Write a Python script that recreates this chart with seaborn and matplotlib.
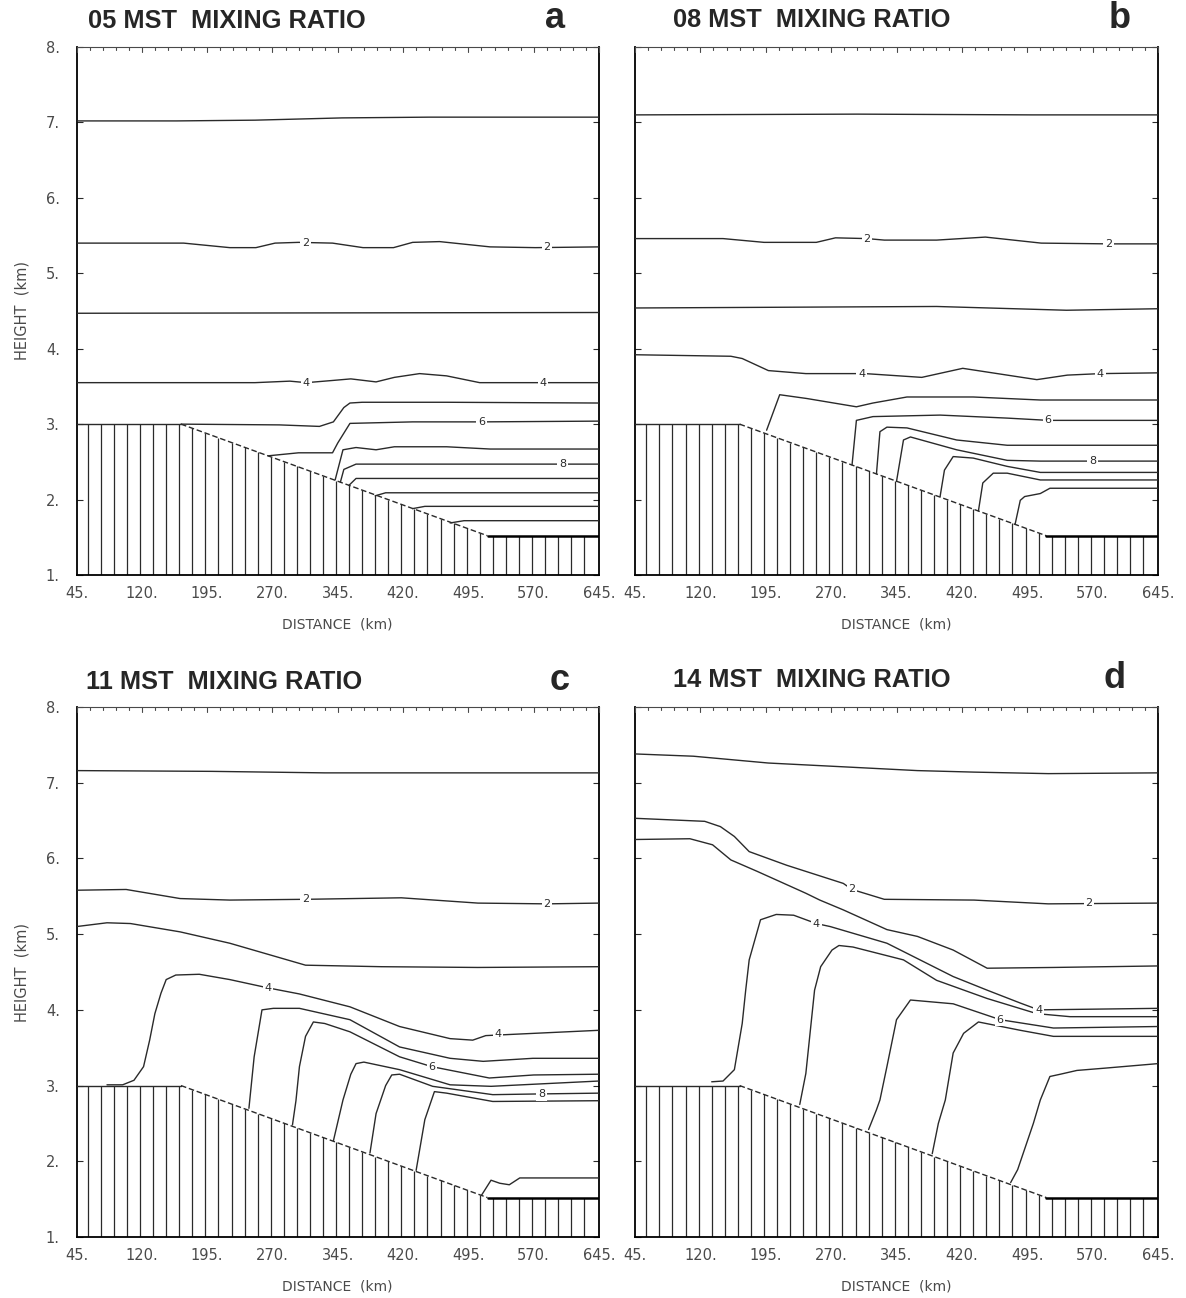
import numpy as np
import matplotlib
matplotlib.use("Agg")
import matplotlib.pyplot as plt
import seaborn as sns

# terrain profile (distance km, height km)
terrain_x = [45, 165, 517, 645]
terrain_h = [3.0, 3.0, 1.52, 1.52]

x_ticks = [45, 120, 195, 270, 345, 420, 495, 570, 645]
x_tick_labels = ["45.", "120.", "195.", "270.", "345.", "420.", "495.", "570.", "645."]
y_ticks = [1, 2, 3, 4, 5, 6, 7, 8]
y_tick_labels = ["1.", "2.", "3.", "4.", "5.", "6.", "7.", "8."]

titles = ["05 MST  MIXING RATIO", "08 MST  MIXING RATIO",
          "11 MST  MIXING RATIO", "14 MST  MIXING RATIO"]
letters = ["a", "b", "c", "d"]

# ---- panel a : 05 MST ----
a_contours = [
    [(45, 7.02), (160, 7.02), (250, 7.03), (350, 7.06), (450, 7.07), (645, 7.07)],
    [(45, 5.40), (168, 5.40), (221, 5.34), (251, 5.34), (273, 5.40), (300, 5.41), (339, 5.40),
     (374, 5.34), (409, 5.34), (431, 5.41), (462, 5.42), (520, 5.35), (572, 5.34), (645, 5.35)],
    [(45, 4.47), (645, 4.48)],
    [(45, 3.55), (250, 3.55), (290, 3.57), (309, 3.55), (340, 3.58), (360, 3.60), (389, 3.56),
     (410, 3.62), (439, 3.67), (470, 3.64), (508, 3.55), (645, 3.55)],
    [(165, 3.00), (278, 2.99), (324, 2.97), (340, 3.03), (352, 3.22), (359, 3.28), (373, 3.29),
     (470, 3.29), (645, 3.28)],
    [(265, 2.58), (300, 2.62), (339, 2.62), (345, 2.75), (359, 3.01), (431, 3.03), (510, 3.03),
     (645, 3.04)],
    [(342, 2.26), (351, 2.66), (366, 2.69), (389, 2.66), (410, 2.70), (470, 2.70), (520, 2.67),
     (645, 2.67)],
    [(348, 2.23), (352, 2.40), (366, 2.47), (645, 2.47)],
    [(358, 2.19), (366, 2.28), (645, 2.28)],
    [(388, 2.05), (400, 2.09), (645, 2.09)],
    [(431, 1.88), (445, 1.91), (645, 1.91)],
    [(474, 1.69), (490, 1.72), (645, 1.72)],
]
a_labels = [(308, 5.40, "2"), (585, 5.35, "2"), (309, 3.55, "4"), (581, 3.55, "4"),
            (510, 3.03, "6"), (603, 2.47, "8")]

# ---- panel b : 08 MST ----
b_contours = [
    [(45, 7.10), (300, 7.11), (500, 7.10), (645, 7.10)],
    [(45, 5.46), (146, 5.46), (193, 5.41), (253, 5.41), (275, 5.47), (311, 5.46), (331, 5.44),
     (391, 5.44), (447, 5.48), (511, 5.40), (588, 5.39), (645, 5.39)],
    [(45, 4.54), (391, 4.56), (540, 4.51), (645, 4.53)],
    [(45, 3.92), (155, 3.90), (168, 3.87), (198, 3.71), (241, 3.67), (309, 3.67), (374, 3.62),
     (421, 3.74), (506, 3.59), (541, 3.65), (579, 3.67), (645, 3.68)],
    [(196, 2.92), (211, 3.39), (242, 3.34), (299, 3.23), (318, 3.28), (357, 3.36), (433, 3.36),
     (510, 3.32), (645, 3.32)],
    [(294, 2.46), (299, 3.05), (318, 3.10), (395, 3.12), (472, 3.08), (519, 3.05), (645, 3.05)],
    [(322, 2.34), (326, 2.90), (334, 2.96), (357, 2.95), (414, 2.79), (472, 2.72), (645, 2.72)],
    [(345, 2.24), (353, 2.79), (361, 2.83), (414, 2.66), (472, 2.52), (510, 2.51), (645, 2.51)],
    [(395, 2.04), (400, 2.39), (410, 2.57), (433, 2.55), (472, 2.44), (510, 2.36), (645, 2.36)],
    [(439, 1.85), (444, 2.22), (456, 2.35), (472, 2.35), (510, 2.26), (645, 2.26)],
    [(481, 1.67), (487, 1.99), (492, 2.04), (510, 2.08), (521, 2.15), (645, 2.15)],
]
b_labels = [(311, 5.46, "2"), (588, 5.39, "2"), (305, 3.67, "4"), (579, 3.67, "4"),
            (519, 3.05, "6"), (570, 2.51, "8")]

# ---- panel c : 11 MST ----
c_contours = [
    [(45, 7.16), (200, 7.15), (330, 7.13), (450, 7.13), (645, 7.13)],
    [(45, 5.58), (102, 5.59), (164, 5.47), (221, 5.45), (308, 5.46), (418, 5.48), (506, 5.41),
     (585, 5.40), (645, 5.41)],
    [(45, 5.10), (80, 5.15), (107, 5.14), (164, 5.03), (221, 4.88), (308, 4.59), (395, 4.57),
     (506, 4.56), (645, 4.57)],
    [(80, 3.01), (98, 3.01), (111, 3.07), (122, 3.25), (129, 3.60), (135, 3.95), (142, 4.22),
     (148, 4.40), (159, 4.46), (186, 4.47), (221, 4.40), (265, 4.29), (301, 4.21), (359, 4.04),
     (416, 3.78), (474, 3.62), (500, 3.60), (515, 3.66), (645, 3.73)],
    [(243, 2.70), (249, 3.38), (258, 4.00), (271, 4.02), (301, 4.02), (359, 3.87), (416, 3.51),
     (474, 3.36), (512, 3.32), (569, 3.36), (645, 3.36)],
    [(293, 2.48), (297, 2.80), (301, 3.25), (308, 3.65), (317, 3.84), (330, 3.82), (359, 3.71),
     (416, 3.38), (453, 3.25), (519, 3.10), (570, 3.14), (645, 3.15)],
    [(340, 2.27), (351, 2.81), (360, 3.15), (366, 3.29), (375, 3.31), (416, 3.21), (474, 3.01),
     (521, 2.99), (645, 3.06)],
    [(382, 2.11), (389, 2.63), (400, 3.00), (407, 3.14), (416, 3.15), (454, 2.99), (523, 2.88),
     (579, 2.89), (645, 2.90)],
    [(435, 1.88), (445, 2.55), (456, 2.92), (470, 2.90), (523, 2.79), (645, 2.80)],
    [(510, 1.55), (521, 1.75), (531, 1.71), (542, 1.69), (554, 1.78), (645, 1.78)],
]
c_labels = [(308, 5.46, "2"), (585, 5.40, "2"), (265, 4.29, "4"), (529, 3.68, "4"),
            (453, 3.25, "6"), (579, 2.89, "8")]

# ---- panel d : 14 MST ----
d_contours = [
    [(45, 7.38), (112, 7.35), (198, 7.26), (284, 7.21), (369, 7.16), (434, 7.14), (519, 7.12),
     (645, 7.13)],
    [(45, 6.53), (125, 6.49), (143, 6.42), (159, 6.29), (176, 6.09), (219, 5.91), (284, 5.67),
     (294, 5.59), (331, 5.46), (434, 5.45), (519, 5.40), (645, 5.41)],
    [(45, 6.25), (108, 6.26), (134, 6.18), (155, 5.98), (185, 5.83), (241, 5.54), (257, 5.45),
     (284, 5.32), (334, 5.06), (369, 4.97), (410, 4.79), (449, 4.55), (525, 4.56), (645, 4.58)],
    [(133, 3.05), (146, 3.06), (159, 3.21), (168, 3.82), (172, 4.26), (176, 4.66), (189, 5.19),
     (207, 5.26), (227, 5.25), (253, 5.14), (269, 5.10), (334, 4.88), (372, 4.66), (410, 4.44),
     (449, 4.26), (487, 4.09), (508, 4.00), (645, 4.02)],
    [(234, 2.75), (241, 3.16), (247, 3.82), (251, 4.26), (258, 4.57), (271, 4.79), (279, 4.85),
     (295, 4.83), (353, 4.66), (391, 4.39), (449, 4.15), (506, 3.95), (544, 3.91), (645, 3.91)],
    [(313, 2.42), (322, 2.68), (326, 2.81), (334, 3.25), (345, 3.87), (361, 4.13), (410, 4.08),
     (464, 3.87), (525, 3.76), (645, 3.78)],
    [(386, 2.10), (393, 2.50), (401, 2.81), (410, 3.43), (422, 3.69), (439, 3.84), (487, 3.73),
     (525, 3.65), (645, 3.65)],
    [(476, 1.72), (484, 1.89), (502, 2.50), (510, 2.81), (521, 3.12), (533, 3.15), (552, 3.20),
     (584, 3.23), (645, 3.29)],
]
d_labels = [(294, 5.59, "2"), (566, 5.41, "2"), (253, 5.14, "4"), (508, 4.00, "4"),
            (464, 3.87, "6")]

# axes placement in figure pixels (left, top, right, bottom) of the 1186x1298 canvas
W, H = 1186, 1298
panel_boxes = [(76.5, 47, 599, 575), (635, 47, 1158, 575),
               (76.5, 707, 599, 1237), (635, 707, 1158, 1237)]
title_x = [88, 673, 86, 673]
letter_x = [555, 1120, 560, 1115]
title_y = [21, 20, 682, 680]

LINE = "#2a2a2a"
GRAY = "#4a4a4a"

sns.set_style("white")
plt.rcParams["font.family"] = ["DejaVu Sans"]

fig = plt.figure(figsize=(W / 100, H / 100), dpi=100)


def draw_panel(ax, contours, labels, show_y):
    ax.set_xlim(45, 645)
    ax.set_ylim(1, 8)

    # terrain hatching
    hatch_x = np.arange(58, 631, 15)
    hatch_top = np.interp(hatch_x, terrain_x, terrain_h)
    ax.vlines(hatch_x, 1, hatch_top, color=LINE, lw=0.9, zorder=2)
    sns.lineplot(x=terrain_x[:2], y=terrain_h[:2], ax=ax, color=LINE, lw=1.0,
                 sort=False, estimator=None, zorder=3)
    sns.lineplot(x=terrain_x[1:3], y=terrain_h[1:3], ax=ax, color=LINE, lw=1.0,
                 linestyle=(0, (4, 2)), sort=False, estimator=None, zorder=3)
    sns.lineplot(x=terrain_x[2:], y=terrain_h[2:], ax=ax, color="black", lw=1.8,
                 sort=False, estimator=None, zorder=3)

    # mixing ratio contours
    for line in contours:
        xs = [p[0] for p in line]
        hs = [p[1] for p in line]
        sns.lineplot(x=xs, y=hs, ax=ax, color=LINE, lw=1.0, sort=False,
                     estimator=None, zorder=4)

    for x, h, txt in labels:
        ax.text(x, h, txt, fontsize=8, color=LINE, ha="center", va="center", zorder=6,
                bbox=dict(facecolor="white", edgecolor="none", pad=1.2))

    ax.set_xticks(x_ticks)
    ax.set_xticklabels(x_tick_labels, fontsize=10.5, color=GRAY)
    ax.set_yticks(y_ticks)
    if show_y:
        ax.set_yticklabels(y_tick_labels, fontsize=10.5, color=GRAY)
        ax.set_ylabel("HEIGHT  (km)", fontsize=10.5, color=GRAY, labelpad=12)
    else:
        ax.set_yticklabels([])
    ax.set_xlabel("DISTANCE  (km)", fontsize=10, color=GRAY, labelpad=12)
    ax.tick_params(axis="x", direction="in", length=0, pad=8)
    ax.tick_params(axis="y", direction="in", length=4, pad=12, right=True, left=True,
                   color=LINE)

    # small inward ticks along the top edge
    top_x = np.arange(45, 646, 15)
    for k, tx in enumerate(top_x):
        ax.plot([tx, tx], [8, 8 - (0.07 if k % 5 == 0 else 0.04)], color=GRAY, lw=0.8,
                zorder=5, clip_on=False)

    for side in ["left", "right", "bottom"]:
        ax.spines[side].set_color("black")
        ax.spines[side].set_linewidth(1.3)
    ax.spines["top"].set_color(GRAY)
    ax.spines["top"].set_linewidth(0.8)


all_contours = [a_contours, b_contours, c_contours, d_contours]
all_labels = [a_labels, b_labels, c_labels, d_labels]

for i in range(4):
    l, t, r, b = panel_boxes[i]
    ax = fig.add_axes([l / W, 1 - b / H, (r - l) / W, (b - t) / H])
    draw_panel(ax, all_contours[i], all_labels[i], show_y=(i % 2 == 0))
    fig.text(title_x[i] / W, 1 - title_y[i] / H, titles[i], fontsize=18.3, fontweight="bold",
             family=["Liberation Sans", "DejaVu Sans"], ha="left", va="center")
    fig.text(letter_x[i] / W, 1 - (title_y[i] - 2) / H, letters[i], fontsize=26,
             fontweight="bold", family=["Liberation Sans", "DejaVu Sans"],
             ha="center", va="center")

fig.savefig("out.png", dpi=100)
